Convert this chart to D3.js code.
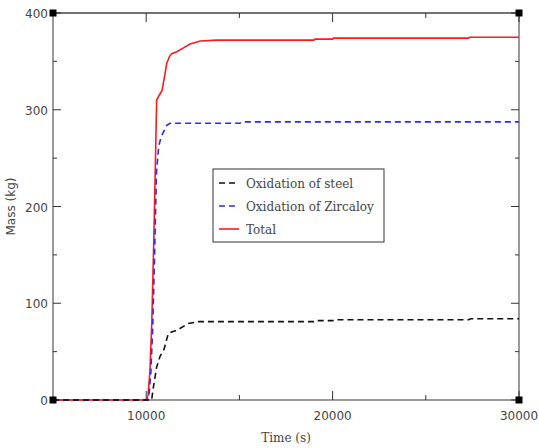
<!DOCTYPE html>
<html>
<head>
    <meta charset="utf-8">
    <title>oxidation mass</title>
    <script src="https://d3js.org/d3.v7.min.js"></script>
    <style>
        body { margin: 0; background: #fff; }
        text { font-family: "DejaVu Sans", sans-serif; fill: #444; }
    </style>
</head>
<body>
    <svg width="539" height="448" id="mainsvg"></svg>
    <script>
        // hydrogen-source mass over time (s, kg)
        const totalTime = [5000, 10000, 10100, 10200, 10300, 10400, 10500, 10560, 10700, 10850, 11000, 11100, 11250, 11370, 11640, 12000, 12350, 12900, 13780, 19000, 19050, 20000, 20050, 27300, 27350, 30000];
        const totalMass = [0, 0, 5, 30, 80, 160, 250, 310, 315, 320, 336, 348, 355, 358, 360, 364, 368, 371, 372, 372, 373, 373, 374, 374, 375, 375];

        const zrTime = [5000, 10050, 10150, 10250, 10350, 10450, 10550, 10670, 10800, 11100, 11280, 15000, 15200, 30000];
        const zrMass = [0, 0, 5, 28, 75, 150, 235, 262, 272, 284, 286, 286, 287.5, 287.5];

        const steelTime = [5000, 10290, 10400, 10560, 10740, 10950, 11190, 11640, 12260, 12800, 19000, 19100, 20000, 20100, 27300, 27400, 30000];
        const steelMass = [0, 0, 15, 34, 45, 52, 69, 72, 79, 81, 81, 82, 82, 83, 83, 84, 84];

        const legendNames = ['Oxidation of steel', 'Oxidation of Zircaloy', 'Total'];
        const legendColors = ['#111', '#2a2aff', '#ff1a1a'];
        const legendDash = ['6,4', '6,4', null];

        const xTicks = [10000, 20000, 30000];
        const xMinor = [15000, 25000];
        const yTicks = [0, 100, 200, 300, 400];
        const yMinor = [50, 150, 250, 350];

        const svg = d3.select('#mainsvg');
        const pl = 53, pr = 519, pt = 13, pb = 400;

        const x = d3.scaleLinear().domain([5000, 30000]).range([pl, pr]);
        const y = d3.scaleLinear().domain([0, 400]).range([pb, pt]);

        const line = d3.line().x(d => x(d[0])).y(d => y(d[1]));
        const pairs = (t, m) => t.map((v, i) => [v, m[i]]);

        // frame
        svg.append('line').attr('x1', pl).attr('x2', pr).attr('y1', pt).attr('y2', pt)
            .attr('stroke', '#444').attr('stroke-width', 1.3);
        svg.append('line').attr('x1', pl).attr('x2', pr).attr('y1', pb).attr('y2', pb)
            .attr('stroke', '#999').attr('stroke-width', 2);
        svg.append('line').attr('x1', pl).attr('x2', pl).attr('y1', pt).attr('y2', pb)
            .attr('stroke', '#999').attr('stroke-width', 2);
        svg.append('line').attr('x1', pr).attr('x2', pr).attr('y1', pt).attr('y2', pb)
            .attr('stroke', '#999').attr('stroke-width', 2);

        // ticks, all pointing inward
        const tk = svg.append('g').attr('stroke', '#333').attr('stroke-width', 1);
        xTicks.concat(xMinor).forEach(v => {
            const len = xMinor.includes(v) ? 5 : 9;
            tk.append('line').attr('x1', x(v)).attr('x2', x(v)).attr('y1', pb).attr('y2', pb - len);
            tk.append('line').attr('x1', x(v)).attr('x2', x(v)).attr('y1', pt).attr('y2', pt + len);
        });
        yTicks.concat(yMinor).forEach(v => {
            const len = yMinor.includes(v) ? 4 : 8;
            tk.append('line').attr('x1', pl).attr('x2', pl + len).attr('y1', y(v)).attr('y2', y(v));
            tk.append('line').attr('x1', pr).attr('x2', pr - len).attr('y1', y(v)).attr('y2', y(v));
        });

        // tick labels
        svg.append('g').selectAll('text').data(xTicks).enter().append('text')
            .attr('x', d => x(d)).attr('y', pb + 20)
            .attr('text-anchor', 'middle').attr('font-size', 12).text(d => d);
        svg.append('g').selectAll('text').data(yTicks).enter().append('text')
            .attr('x', pl - 5).attr('y', d => y(d) + 5)
            .attr('text-anchor', 'end').attr('font-size', 12).text(d => d);

        svg.append('text').attr('x', (pl + pr) / 2).attr('y', 442)
            .attr('text-anchor', 'middle').attr('font-size', 12)
            .style('font-family', '"DejaVu Serif", serif').text('Time (s)');
        svg.append('text').attr('transform', `translate(15,${(pt + pb) / 2}) rotate(-90)`)
            .attr('text-anchor', 'middle').attr('font-size', 12).text('Mass (kg)');

        // curves
        const series = [pairs(steelTime, steelMass), pairs(zrTime, zrMass), pairs(totalTime, totalMass)];
        [2, 1, 0].forEach(i => {
            svg.append('path').attr('d', line(series[i]))
                .attr('fill', 'none').attr('stroke', legendColors[i])
                .attr('stroke-width', 1.6)
                .attr('stroke-dasharray', legendDash[i]);
        });

        // corner markers
        [[5000, 0], [30000, 0], [5000, 400], [30000, 400]].forEach(c => {
            svg.append('rect').attr('x', x(c[0]) - 3.5).attr('y', y(c[1]) - 3.5)
                .attr('width', 7).attr('height', 7).attr('fill', '#000');
        });

        // legend
        const lg = svg.append('g').attr('transform', 'translate(213,169)');
        lg.append('rect').attr('width', 171).attr('height', 73)
            .attr('fill', '#fff').attr('stroke', '#333').attr('stroke-width', 1);
        legendNames.forEach((n, i) => {
            const yy = 14 + i * 23;
            lg.append('line').attr('x1', 6).attr('x2', 26).attr('y1', yy).attr('y2', yy)
                .attr('stroke', legendColors[i]).attr('stroke-width', 1.6)
                .attr('stroke-dasharray', legendDash[i]);
            lg.append('text').attr('x', 33).attr('y', yy + 4.5).attr('font-size', 12)
                .style('font-family', '"DejaVu Serif", serif').text(n);
        });
    </script>
</body>
</html>
